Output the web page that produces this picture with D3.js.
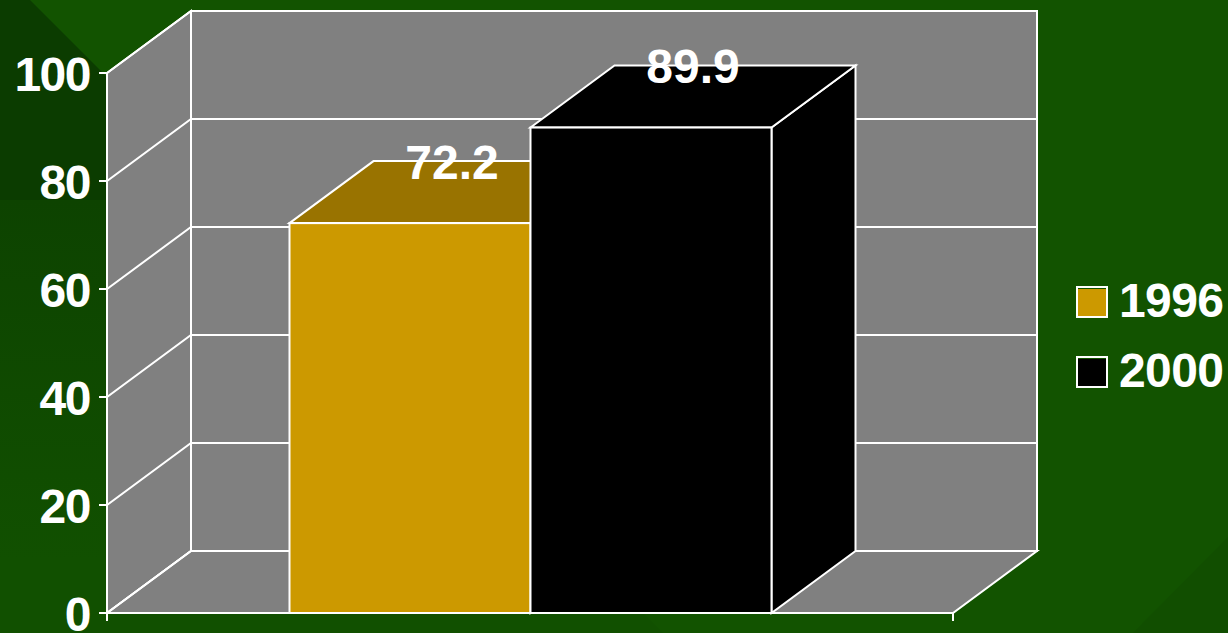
<!DOCTYPE html>
<html><head><meta charset="utf-8">
<script src="https://cdn.jsdelivr.net/npm/d3@7"></script>
<style>html,body{margin:0;padding:0;background:#125300;overflow:hidden}svg{display:block}text{font-family:"Liberation Sans",Arial,sans-serif;font-weight:700;fill:#fff}</style>
</head><body><svg id="c" width="1228" height="633"></svg>
<script>
const categories = ["1996","2000"];
const values = [72.2,89.9];
const colors = ["#cc9900","#000000"];
const topColors = ["#997300","#000000"];
const ticks = [0,20,40,60,80,100];

const svg = d3.select("#c");
const y = d3.scaleLinear().domain([0,100]).range([613,73]);
const x = d3.scaleBand().domain(categories).range([289.5,771.5]).padding(0);
const wallX = d3.scaleLinear().domain([0,1]).range([107,953]);
const dx = 84, dy = -62;
const line = d3.line();
const poly = p => line(p)+"Z";

// background
const bg = svg.append("g");
bg.append("rect").attr("width",1228).attr("height",633).attr("fill","#125300");
const fade = svg.append("defs").append("linearGradient").attr("id","fade").attr("gradientUnits","userSpaceOnUse").attr("x1",0).attr("x2",0).attr("y1",200).attr("y2",560);
fade.append("stop").attr("offset",0).attr("stop-color","#0d4300");
fade.append("stop").attr("offset",1).attr("stop-color","#115000");
bg.append("path").attr("d",poly([[0,200],[230,200],[663,633],[0,633]])).attr("fill","url(#fade)");
bg.append("path").attr("d",poly([[0,0],[30,0],[230,200],[0,200]])).attr("fill","#0b3c00");
bg.append("path").attr("d",poly([[1228,537],[1228,633],[1133,633]])).attr("fill","#114e00");

const wl=wallX(0), wr=wallX(1), y0=y(0), y1=y(100);
const sw=2;
const wall = svg.append("g").attr("stroke","#fff").attr("stroke-width",sw).attr("stroke-linejoin","miter");
wall.append("path").attr("d",poly([[wl+dx,y1+dy],[wr+dx,y1+dy],[wr+dx,y0+dy],[wl+dx,y0+dy]])).attr("fill","#808080");
wall.append("path").attr("d",poly([[wl,y1],[wl+dx,y1+dy],[wl+dx,y0+dy],[wl,y0]])).attr("fill","#808080");
wall.append("path").attr("d",poly([[wl,y0],[wl+dx,y0+dy],[wr+dx,y0+dy],[wr,y0]])).attr("fill","#808080");

ticks.forEach(t=>{
  wall.append("path").attr("fill","none").attr("d",line([[wl-8,y(t)],[wl,y(t)],[wl+dx,y(t)+dy],[wr+dx,y(t)+dy]]));
  svg.append("text").attr("x",wl-17).attr("y",y(t)+18).attr("text-anchor","end").attr("font-size",48).attr("letter-spacing","-1.5").text(t);
});
wall.append("path").attr("fill","none").attr("d",line([[wl,y0],[wl,y0+8]]));
wall.append("path").attr("fill","none").attr("d",line([[wr,y0],[wr,y0+8]]));
wall.append("path").attr("fill","none").attr("d",line([[wl,y0],[wr,y0]]));

const bars = svg.append("g").attr("stroke","#fff").attr("stroke-width",sw);
categories.forEach((c,i)=>{
  const a=x(c), b=a+x.bandwidth(), t=y(values[i]);
  bars.append("path").attr("d",poly([[b,t],[b+dx,t+dy],[b+dx,y0+dy],[b,y0]])).attr("fill",i?"#000":"#997300");
  bars.append("path").attr("d",poly([[a,t],[a+dx,t+dy],[b+dx,t+dy],[b,t]])).attr("fill",topColors[i]);
  bars.append("rect").attr("x",a).attr("y",t).attr("width",b-a).attr("height",y0-t).attr("fill",colors[i]);
});
categories.forEach((c,i)=>{
  const a=x(c)+x.bandwidth()/2+dx/2, t=y(values[i]);
  svg.append("text").attr("x",a).attr("y",t-44.5).attr("text-anchor","middle").attr("font-size",48).text(values[i].toFixed(1));
});

// legend
const ly = d3.scalePoint().domain(categories).range([302,372]);
categories.forEach((c,i)=>{
  svg.append("rect").attr("x",1077).attr("y",ly(c)-15).attr("width",30).attr("height",30).attr("fill","#125300").attr("stroke","#fff").attr("stroke-width",2);
  svg.append("rect").attr("x",1078).attr("y",ly(c)-13).attr("width",28).attr("height",27).attr("fill",colors[i]);
  svg.append("text").attr("x",1119).attr("y",ly(c)+15).attr("font-size",48).attr("letter-spacing","-0.6").text(c);
});
</script></body></html>
